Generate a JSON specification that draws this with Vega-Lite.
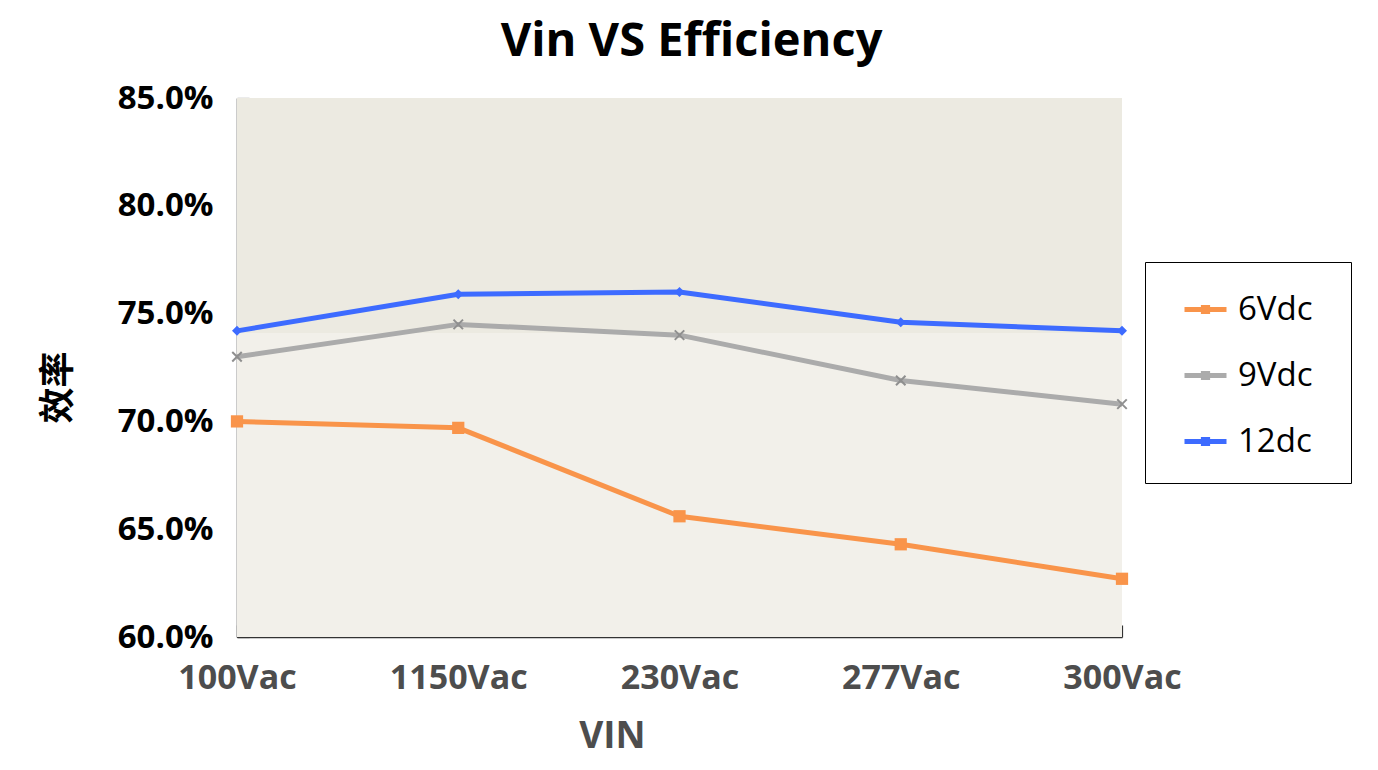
{
  "$schema": "https://vega.github.io/schema/vega-lite/v6.json",
  "width": 885,
  "height": 539,
  "autosize": {"type": "none"},
  "padding": {"left": 237, "top": 98, "right": 256, "bottom": 133},
  "background": "white",
  "title": {
    "text": "Vin VS Efficiency",
    "font": "Open Sans",
    "fontSize": 47,
    "fontWeight": "bold",
    "color": "#000000",
    "anchor": "middle",
    "frame": "group",
    "baseline": "alphabetic",
    "offset": -21,
    "dx": 12
  },
  "config": {
    "view": {"stroke": null},
    "axis": {"grid": false}
  },
  "datasets": {
    "bands": [
      {"lo": 0.741, "hi": 0.85, "zone": "upper"},
      {"lo": 0.60, "hi": 0.741, "zone": "lower"}
    ],
    "eff": [
      {"vin": "100Vac", "series": "6Vdc", "eff": 0.700},
      {"vin": "1150Vac", "series": "6Vdc", "eff": 0.697},
      {"vin": "230Vac", "series": "6Vdc", "eff": 0.656},
      {"vin": "277Vac", "series": "6Vdc", "eff": 0.643},
      {"vin": "300Vac", "series": "6Vdc", "eff": 0.627},
      {"vin": "100Vac", "series": "9Vdc", "eff": 0.730},
      {"vin": "1150Vac", "series": "9Vdc", "eff": 0.745},
      {"vin": "230Vac", "series": "9Vdc", "eff": 0.740},
      {"vin": "277Vac", "series": "9Vdc", "eff": 0.719},
      {"vin": "300Vac", "series": "9Vdc", "eff": 0.708},
      {"vin": "100Vac", "series": "12dc", "eff": 0.742},
      {"vin": "1150Vac", "series": "12dc", "eff": 0.759},
      {"vin": "230Vac", "series": "12dc", "eff": 0.760},
      {"vin": "277Vac", "series": "12dc", "eff": 0.746},
      {"vin": "300Vac", "series": "12dc", "eff": 0.742}
    ]
  },
  "layer": [
    {
      "data": {"name": "bands"},
      "mark": {"type": "rect"},
      "encoding": {
        "y": {"field": "lo", "type": "quantitative", "scale": {"domain": [0.6, 0.85]}},
        "y2": {"field": "hi"},
        "fill": {
          "field": "zone",
          "type": "nominal",
          "scale": {"domain": ["upper", "lower"], "range": ["#ECEAE1", "#F2F0EA"]},
          "legend": null
        }
      }
    },
    {
      "data": {"name": "eff"},
      "mark": {"type": "line", "strokeWidth": 5, "strokeJoin": "round"},
      "encoding": {
        "x": {
          "field": "vin",
          "type": "ordinal",
          "sort": ["100Vac", "1150Vac", "230Vac", "277Vac", "300Vac"],
          "scale": {"type": "point", "padding": 0},
          "axis": {
            "title": "VIN",
            "titleFont": "Open Sans",
            "titleFontSize": 37,
            "titleFontWeight": "bold",
            "titleColor": "#4D4D4D",
            "titleX": 375,
            "titleY": 110,
            "titleBaseline": "alphabetic",
            "titleAlign": "center",
            "labelAngle": 0,
            "labelFont": "Open Sans",
            "labelFontSize": 34,
            "labelFontWeight": "bold",
            "labelColor": "#4D4D4D",
            "labelPadding": 36,
            "domainColor": "#333333",
            "domainWidth": 1.5,
            "tickColor": "#333333",
            "tickSize": -12,
            "tickWidth": 1.2
          }
        },
        "y": {
          "field": "eff",
          "type": "quantitative",
          "scale": {"domain": [0.6, 0.85], "nice": false, "zero": false},
          "axis": {
            "title": "效率",
            "titleFont": "Noto Sans CJK SC",
            "titleFontSize": 36,
            "titleFontWeight": "bold",
            "titleColor": "#000000",
            "titleX": -179,
            "titleY": 289,
            "titleAlign": "center",
            "titleBaseline": "middle",
            "titleAngle": -90,
            "values": [0.6, 0.65, 0.7, 0.75, 0.8, 0.85],
            "format": ".1%",
            "labelFont": "Open Sans",
            "labelFontSize": 33,
            "labelFontWeight": "bold",
            "labelColor": "#000000",
            "labelPadding": 36,
            "domainColor": "#333333",
            "domainWidth": 1.5,
            "tickColor": "#333333",
            "tickSize": -12,
            "tickWidth": 1.2
          }
        },
        "color": {
          "field": "series",
          "type": "nominal",
          "scale": {"domain": ["6Vdc", "9Vdc", "12dc"], "range": ["#F9944A", "#ABABAB", "#3D6BFF"]},
          "legend": {
            "title": "\u00a0",
            "titleOrient": "right",
            "titleFontSize": 2,
            "titlePadding": 14,
            "orient": "none",
            "legendX": 908,
            "legendY": 164,
            "fillColor": "white",
            "strokeColor": "#000000",
            "padding": 24,
            "symbolType": "M-1,0H1M-0.1,-0.1H0.1V0.1H-0.1Z",
            "symbolSize": 1764,
            "symbolStrokeWidth": 5,
            "symbolOffset": 13,
            "labelFont": "Open Sans",
            "labelFontSize": 33,
            "labelColor": "#000000",
            "labelOffset": 9,
            "rowPadding": 25
          }
        }
      }
    },
    {
      "data": {"name": "eff"},
      "transform": [{"filter": "datum.series === '6Vdc'"}],
      "mark": {"type": "point", "shape": "square", "filled": true, "size": 150, "opacity": 1},
      "encoding": {
        "x": {"field": "vin", "type": "ordinal", "sort": ["100Vac", "1150Vac", "230Vac", "277Vac", "300Vac"]},
        "y": {"field": "eff", "type": "quantitative"},
        "color": {"field": "series", "type": "nominal", "legend": null}
      }
    },
    {
      "data": {"name": "eff"},
      "transform": [{"filter": "datum.series === '9Vdc'"}],
      "mark": {"type": "point", "shape": "M-1,-1L1,1M-1,1L1,-1", "filled": false, "size": 90, "strokeWidth": 2, "color": "#8F8F8F", "opacity": 1},
      "encoding": {
        "x": {"field": "vin", "type": "ordinal", "sort": ["100Vac", "1150Vac", "230Vac", "277Vac", "300Vac"]},
        "y": {"field": "eff", "type": "quantitative"}
      }
    },
    {
      "data": {"name": "eff"},
      "transform": [{"filter": "datum.series === '12dc'"}],
      "mark": {"type": "point", "shape": "diamond", "filled": true, "size": 100, "opacity": 1},
      "encoding": {
        "x": {"field": "vin", "type": "ordinal", "sort": ["100Vac", "1150Vac", "230Vac", "277Vac", "300Vac"]},
        "y": {"field": "eff", "type": "quantitative"},
        "color": {"field": "series", "type": "nominal", "legend": null}
      }
    }
  ]
}
